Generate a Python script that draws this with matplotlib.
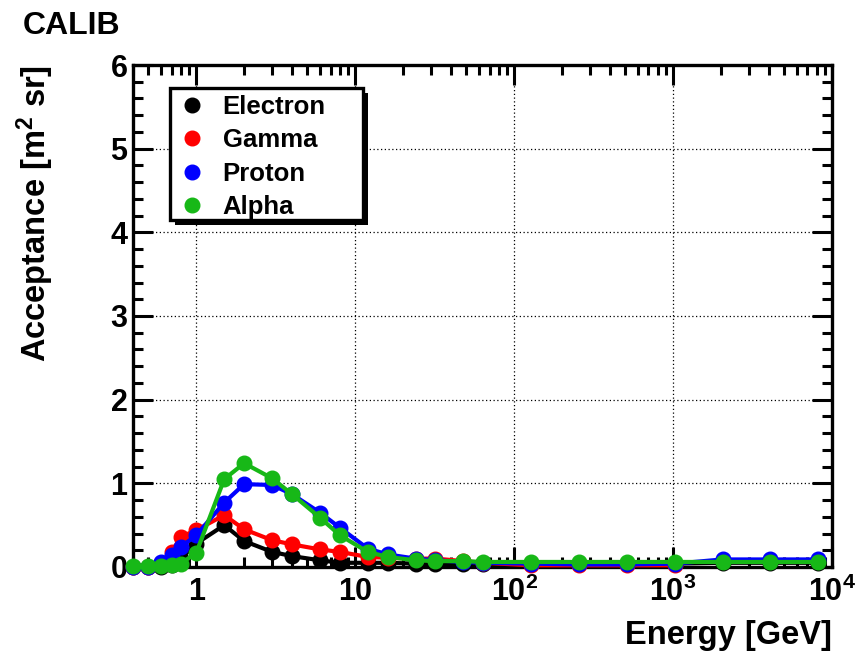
import numpy as np
import matplotlib
matplotlib.use("Agg")
import matplotlib.pyplot as plt
from matplotlib.patches import Rectangle
from matplotlib.ticker import FixedLocator, LogLocator, MultipleLocator, FuncFormatter

plt.rcParams['font.family'] = ['Liberation Sans', 'DejaVu Sans']
plt.rcParams['font.weight'] = 'bold'
plt.rcParams['mathtext.fontset'] = 'custom'
plt.rcParams['mathtext.rm'] = 'Liberation Sans:bold'
plt.rcParams['mathtext.it'] = 'Liberation Sans:bold'
plt.rcParams['mathtext.bf'] = 'Liberation Sans:bold'

# energy bins [GeV]
energy = [0.4, 0.5, 0.6, 0.7, 0.8, 1.0, 1.5, 2, 3, 4, 6, 8, 12, 16, 24, 32,
          48, 64, 128, 256, 512, 1024, 2048, 4096, 8192]

# acceptance [m^2 sr]
electron = [0.0, 0.0, 0.0, 0.02, 0.1, 0.28, 0.5, 0.31, 0.18, 0.13, 0.08, 0.05,
            0.05, 0.05, 0.04, 0.03, 0.03, 0.03, 0.04, 0.04, 0.04, 0.04, 0.05, 0.05, 0.05]
gamma = [0.0, 0.0, 0.05, 0.18, 0.36, 0.44, 0.62, 0.45, 0.32, 0.27, 0.21, 0.18,
         0.12, 0.11, 0.1, 0.1, 0.07, 0.05, 0.02, 0.02, 0.02, 0.02]
proton = [0.0, 0.0, 0.06, 0.14, 0.24, 0.38, 0.77, 0.99, 0.98, 0.87, 0.65, 0.47,
          0.22, 0.15, 0.1, 0.08, 0.06, 0.05, 0.04, 0.03, 0.03, 0.04, 0.09, 0.09, 0.09]
alpha = [0.01, 0.01, 0.01, 0.02, 0.04, 0.17, 1.05, 1.24, 1.06, 0.87, 0.59, 0.38,
         0.18, 0.12, 0.08, 0.07, 0.07, 0.06, 0.06, 0.06, 0.06, 0.06, 0.06, 0.06, 0.06]

series = [("Electron", electron, "black"),
          ("Gamma", gamma, "#ff0000"),
          ("Proton", proton, "#0000ff"),
          ("Alpha", alpha, "#17b817")]

fig = plt.figure(figsize=(8.56, 6.52), dpi=100)
ax = fig.add_axes([0.1554, 0.1304, 0.8166, 0.7699])

for name, vals, col in series:
    x = energy[:len(vals)]
    ax.plot(x, vals, "-o", color=col, lw=3.0, ms=10.5, mec=col,
            label=name, clip_on=False, zorder=3)

ax.set_xscale("log")
ax.set_xlim(0.4, 1e4)
ax.set_ylim(0, 6)

ax.xaxis.set_major_locator(FixedLocator([1, 10, 100, 1000, 10000]))
ax.xaxis.set_minor_locator(LogLocator(base=10, subs=np.arange(2, 10), numticks=20))


def energy_fmt(v, pos):
    if v < 1.5:
        return "1"
    if v < 15:
        return "10"
    return "$10^{%d}$" % round(np.log10(v))


ax.xaxis.set_major_formatter(FuncFormatter(energy_fmt))
ax.xaxis.set_minor_formatter(FuncFormatter(lambda v, p: ""))
ax.yaxis.set_major_locator(MultipleLocator(1))
ax.yaxis.set_minor_locator(MultipleLocator(0.2))

ax.tick_params(which="both", direction="in", top=True, right=True,
               width=2.2, labelsize=22, color="black")
ax.tick_params(which="major", length=14.5)
ax.tick_params(axis="y", which="major", pad=4)
ax.tick_params(axis="x", which="major", pad=7)
ax.tick_params(which="minor", length=7)
for lab in ax.get_xticklabels() + ax.get_yticklabels():
    lab.set_fontweight("bold")

for sp in ax.spines.values():
    sp.set_linewidth(2.4)

ax.grid(True, which="major", linestyle=(0, (1, 2)), color="black", lw=0.9)
ax.set_axisbelow(True)

ax.set_xlabel("Energy [GeV]", fontsize=23.5, fontweight="bold", loc="right")
ax.xaxis.set_label_coords(1.0, -0.137)
ax.xaxis.label.set_va("center")
ax.set_ylabel("Acceptance [m$^{2}$ sr]", fontsize=23.5, fontweight="bold", loc="top")
ax.yaxis.set_label_coords(-0.140, 1.0)
ax.yaxis.label.set_va("center")

fig.text(0.026, 0.96, "CALIB", fontsize=23, fontweight="bold", va="center")

# legend box: black shadow, white frame, then the entries on top
box = (0.053, 0.691, 0.276, 0.263)
ax.add_patch(Rectangle((box[0] + 0.007, box[1] - 0.010), box[2], box[3],
                       transform=ax.transAxes, facecolor="black",
                       edgecolor="none", zorder=4.8, clip_on=False))
ax.add_patch(Rectangle(box[:2], box[2], box[3], transform=ax.transAxes,
                       facecolor="white", edgecolor="black", lw=2.4,
                       zorder=4.9, clip_on=False))

leg_handles = [plt.Line2D([], [], marker="o", ls="none", color=c, ms=10.5)
               for _, _, c in series]
leg = ax.legend(leg_handles, [s[0] for s in series], loc="upper left",
                bbox_to_anchor=(0.053, 0.958), borderaxespad=0, frameon=False,
                prop={"size": 18.5, "weight": "bold"}, handlelength=1.0,
                handletextpad=0.7, labelspacing=0.36, borderpad=0.35)
leg.set_zorder(5)

fig.savefig("out.png", dpi=100)
